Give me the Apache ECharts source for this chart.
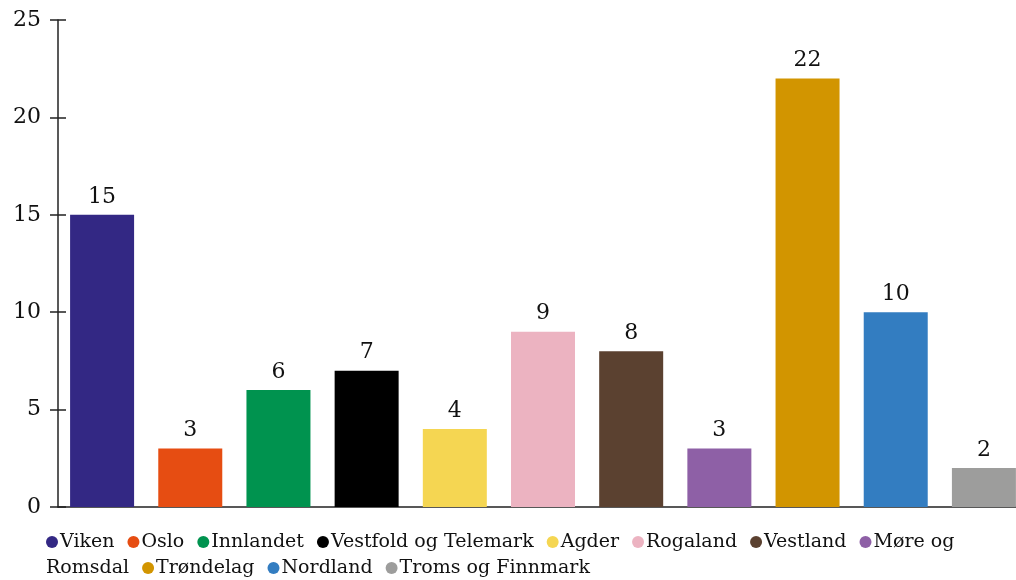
<!DOCTYPE html>
<html><head><meta charset="utf-8">
<script src="https://cdn.jsdelivr.net/npm/echarts@6/dist/echarts.min.js"></script>
<style>html,body{margin:0;padding:0;background:#fff;overflow:hidden}#c{width:1028px;height:580px}</style>
</head><body><div id="c"></div>
<script>
const categories = ['Viken','Oslo','Innlandet','Vestfold og Telemark','Agder','Rogaland','Vestland','Møre og Romsdal','Trøndelag','Nordland','Troms og Finnmark'];
const values = [15,3,6,7,4,9,8,3,22,10,2];
const colors = ['#332884','#E64D12','#00934F','#000000','#F5D652','#ECB3C1','#5B4130','#8E60A6','#D29500','#337DC1','#9D9D9C'];
const yTicks = [0,5,10,15,20,25];

const FONT = '"DejaVu Serif", serif';
const chart = echarts.init(document.getElementById('c'));

const rich = { t: {fontFamily: FONT, fontSize: 19, fontWeight: 'normal', color: '#111', padding: [0,0,0,2], lineHeight: 26},
               pre: {width: 2, lineHeight: 26},
               sp: {width: 11, lineHeight: 26} };
colors.forEach((c,i)=>{ rich['c'+i] = {width: 12, height: 12, borderRadius: 6, backgroundColor: c, lineHeight: 26}; });
let lines = [[]];
categories.forEach((name,i)=>{
  const cur = lines[lines.length-1];
  if (name === 'Møre og Romsdal') {
    cur.push('{pre|}{c'+i+'|}{t|Møre og}');
    lines.push(['{t|Romsdal}']);
  } else {
    cur.push('{pre|}{c'+i+'|}{t|'+name+'}');
  }
});
const legendText = lines.map(l=>l.join('{sp|}')).join('\n');

chart.setOption({
  animation: false,
  grid: {left: 58, top: 20, width: 970, height: 487, containLabel: false},
  title: {text: legendText, left: 44, top: 529, padding: 0, textStyle: {rich: rich, fontFamily: FONT, fontSize: 19, fontWeight: 'normal', lineHeight: 26}},
  xAxis: {type: 'category', data: categories,
    axisLine: {lineStyle: {color: '#222', width: 1.5}}, axisTick: {show: false}, axisLabel: {show: false}},
  yAxis: [{type: 'value', min: yTicks[0], max: yTicks[yTicks.length-1], interval: 5,
    axisLine: {show: true, lineStyle: {color: '#222', width: 1.5}},
    axisTick: {show: true, length: 8, lineStyle: {color: '#222', width: 1.5}},
    axisLabel: {fontFamily: FONT, fontSize: 22, color: '#111', margin: 17},
    splitLine: {show: false}},
   {type: 'value', min: yTicks[0], max: yTicks[yTicks.length-1], interval: 5, position: 'left',
    axisLine: {show: false}, axisTick: {show: true, inside: true, length: 8, lineStyle: {color: '#222', width: 1.5}},
    axisLabel: {show: false}, splitLine: {show: false}}],
  series: [{type: 'bar', data: values.map((v,i)=>({value: v, itemStyle: {color: colors[i]}})),
    barWidth: 64,
    label: {show: true, position: 'top', distance: 7, fontFamily: FONT, fontSize: 22, color: '#111'}}]
});
</script></body></html>
